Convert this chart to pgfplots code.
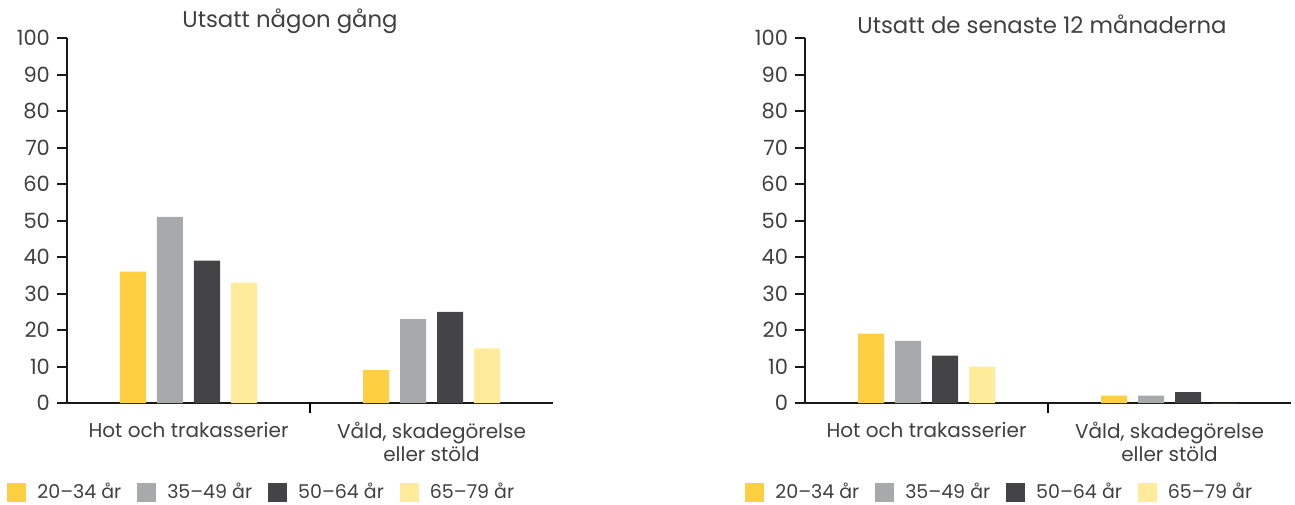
\documentclass[border=0pt]{standalone}
\usepackage{fontspec}
\setmainfont{Poppins}
\usepackage{pgfplots}
\pgfplotsset{compat=1.18}
\definecolor{cA}{HTML}{FDCF41}
\definecolor{cB}{HTML}{A8A9AB}
\definecolor{cC}{HTML}{444446}
\definecolor{cD}{HTML}{FFEB99}
\definecolor{txt}{HTML}{404040}
\pgfplotsset{mybar/.style={
  scale only axis, width=243pt, height=182.5pt,
  ybar=5.5pt, bar width=13pt,
  enlargelimits=false,
  xmin=-0.5, xmax=1.5, ymin=0, ymax=100,
  ytick={0,10,...,100},
  xtick={0,1},
  xticklabels={Hot och trakasserier,{Våld, skadegörelse\\eller stöld}},
  xticklabel style={align=center, text=txt, font=\fontsize{10}{11.5}\selectfont, yshift=-1pt},
  yticklabel style={text=txt, font=\fontsize{10.5}{12}\selectfont},
  /pgf/number format/assume math mode=true,
  major x tick style={draw=none},
  extra x ticks={0.5}, extra x tick labels={},
  extra x tick style={tick align=outside, major tick length=5pt, major x tick style={draw=black, line width=1pt}},
  ytick align=outside, major tick length=5pt,
  axis x line*=bottom, axis y line*=left,
  axis line style={line width=1pt, draw=black!90},
  y tick style={line width=1pt, draw=black!90},
  title style={text=txt, font=\fontsize{11.4}{13}\selectfont, yshift=-7.5pt},
  legend columns=4,
  legend style={draw=none, fill=none, at={(0,0)}, anchor=west, xshift=-33pt, yshift=-44.5pt,
    font=\fontsize{9.5}{11}\selectfont, text=txt,
    /tikz/every odd column/.append style={column sep=3.5pt},
    /tikz/every even column/.append style={column sep=6pt}},
  legend image code/.code={\fill[#1] (0pt,-4.75pt) rectangle (9.5pt,4.75pt);},
}}
\begin{document}
\begin{tikzpicture}
\useasboundingbox (-33.5pt,-50.5pt) rectangle (614pt,201.5pt);
\begin{axis}[mybar, title={Utsatt någon gång}, title style={xshift=-10pt}]
\addplot[fill=cA, draw=none] coordinates {(0,36) (1,9)};
\addplot[fill=cB, draw=none] coordinates {(0,51) (1,23)};
\addplot[fill=cC, draw=none] coordinates {(0,39) (1,25)};
\addplot[fill=cD, draw=none] coordinates {(0,33) (1,15)};
\legend{20–34 år,35–49 år,50–64 år,65–79 år}
\end{axis}
\begin{axis}[mybar, at={(369pt,0)}, title={Utsatt de senaste 12 månaderna}, title style={xshift=-3pt}]
\addplot[fill=cA, draw=none] coordinates {(0,19) (1,2)};
\addplot[fill=cB, draw=none] coordinates {(0,17) (1,2)};
\addplot[fill=cC, draw=none] coordinates {(0,13) (1,3)};
\addplot[fill=cD, draw=none] coordinates {(0,10) (1,0)};
\legend{20–34 år,35–49 år,50–64 år,65–79 år}
\end{axis}
\end{tikzpicture}
\end{document}
